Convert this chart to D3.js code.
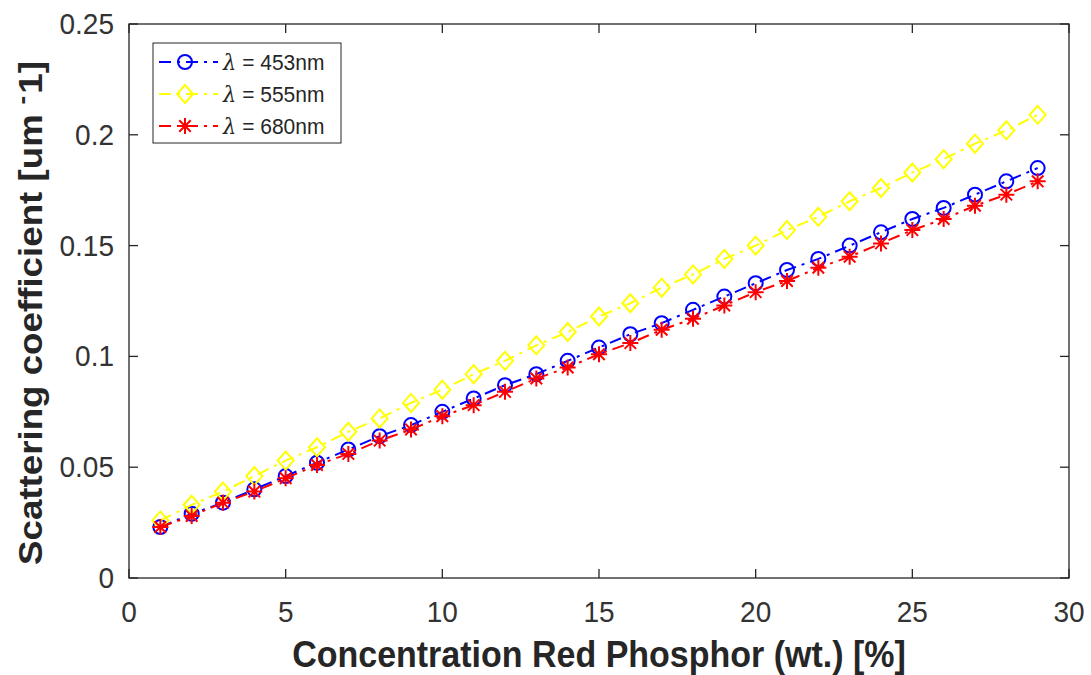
<!DOCTYPE html>
<html><head><meta charset="utf-8">
<script src="https://cdn.jsdelivr.net/npm/d3@7"></script>
<style>html,body{margin:0;padding:0;background:#fff;}svg{display:block;font-family:"Liberation Sans",Arial,sans-serif;}</style>
</head><body>
<script>
const concentration = [1,2,3,4,5,6,7,8,9,10,11,12,13,14,15,16,17,18,19,20,21,22,23,24,25,26,27,28,29];
const s453 = [0.023,0.029,0.034,0.040,0.046,0.052,0.058,0.064,0.069,0.075,0.081,0.087,0.092,0.098,0.104,0.110,0.115,0.121,0.127,0.133,0.139,0.144,0.150,0.156,0.162,0.167,0.173,0.179,0.185];
const s555 = [0.026,0.033,0.039,0.046,0.053,0.059,0.066,0.072,0.079,0.085,0.092,0.098,0.105,0.111,0.118,0.124,0.131,0.137,0.144,0.150,0.157,0.163,0.170,0.176,0.183,0.189,0.196,0.202,0.209];
const s680 = [0.023,0.028,0.034,0.039,0.045,0.051,0.056,0.062,0.067,0.073,0.078,0.084,0.090,0.095,0.101,0.106,0.112,0.117,0.123,0.129,0.134,0.140,0.145,0.151,0.157,0.162,0.168,0.173,0.179];
const seriesNames = ["453nm","555nm","680nm"];
const xTicks = [0,5,10,15,20,25,30];
const yTicks = [0,0.05,0.1,0.15,0.2,0.25];
const yTickLabels = ["0","0.05","0.1","0.15","0.2","0.25"];

const W=1091,H=675;
const L=129,R=1069,T=24,B=578;
const axisColor="#262626";
const vs=1.08; // vertical stretch of text
const svg=d3.select("body").append("svg").attr("width",W).attr("height",H);
const x=d3.scaleLinear().domain([0,30]).range([L,R]);
const y=d3.scaleLinear().domain([0,0.25]).range([B,T]);

const series=[
 {name:seriesNames[0],vals:s453,color:"#0000ff",marker:"circle"},
 {name:seriesNames[1],vals:s555,color:"#ffff00",marker:"diamond"},
 {name:seriesNames[2],vals:s680,color:"#ff0000",marker:"star"}
];

function drawMarker(g,type,cx,cy,color){
  if(type==="circle"){
    g.append("circle").attr("cx",cx).attr("cy",cy).attr("r",7).attr("fill","none").attr("stroke",color).attr("stroke-width",2);
  } else if(type==="diamond"){
    g.append("path").attr("d",`M${cx},${cy-9}L${cx+8},${cy}L${cx},${cy+9}L${cx-8},${cy}Z`).attr("fill","none").attr("stroke",color).attr("stroke-width",2);
  } else {
    const r=8,d=r*0.72;
    g.append("path").attr("d",`M${cx-r},${cy}L${cx+r},${cy}M${cx},${cy-r}L${cx},${cy+r}M${cx-d},${cy-d}L${cx+d},${cy+d}M${cx-d},${cy+d}L${cx+d},${cy-d}`)
      .attr("fill","none").attr("stroke",color).attr("stroke-width",2);
  }
}

// series
const line=d3.line().x((d,i)=>x(concentration[i])).y(d=>y(d));
const plotG=svg.append("g");
series.forEach(s=>{
  plotG.append("path").datum(s.vals).attr("d",line).attr("fill","none").attr("stroke",s.color)
    .attr("stroke-width",2).attr("stroke-dasharray","12,6,3,6");
  const mg=plotG.append("g");
  s.vals.forEach((v,i)=>drawMarker(mg,s.marker,x(concentration[i]),y(v),s.color));
});

// axes box
const ax=svg.append("g").attr("stroke",axisColor).attr("stroke-width",1.3).attr("fill","none");
ax.append("rect").attr("x",L).attr("y",T).attr("width",R-L).attr("height",B-T);
const tl=9;
xTicks.forEach(t=>{
  ax.append("line").attr("x1",x(t)).attr("x2",x(t)).attr("y1",B).attr("y2",B-tl);
  ax.append("line").attr("x1",x(t)).attr("x2",x(t)).attr("y1",T).attr("y2",T+tl);
});
yTicks.forEach(t=>{
  ax.append("line").attr("x1",L).attr("x2",L+tl).attr("y1",y(t)).attr("y2",y(t));
  ax.append("line").attr("x1",R).attr("x2",R-tl).attr("y1",y(t)).attr("y2",y(t));
});
const tg=svg.append("g").attr("fill","#333").attr("font-size",28);
xTicks.forEach(t=>{
  tg.append("text").attr("transform",`translate(${x(t)},${B+44}) scale(1,${vs})`).attr("text-anchor","middle").text(d3.format("d")(t));
});
yTicks.forEach((t,i)=>{
  tg.append("text").attr("transform",`translate(${L-15},${y(t)+10}) scale(1,${vs})`).attr("text-anchor","end").text(yTickLabels[i]);
});

// axis labels
svg.append("text").attr("transform",`translate(${(L+R)/2},667) scale(1,${vs})`).attr("text-anchor","middle").attr("font-size",34).attr("font-weight","bold").attr("fill",axisColor)
  .text("Concentration Red Phosphor (wt.) [%]");
const yl=svg.append("text").attr("transform",`translate(42,565) scale(1,${vs}) rotate(-90)`).attr("text-anchor","start").attr("font-size",34).attr("font-weight","bold").attr("fill",axisColor);
yl.append("tspan").text("Scattering coefficient [um");
yl.append("tspan").attr("dx",9).attr("dy",-12).attr("font-size",24).text("-");
yl.append("tspan").attr("dx",2).attr("dy",12).text("1]");

// legend
const lg=svg.append("g");
lg.append("rect").attr("x",153).attr("y",43).attr("width",188).attr("height",100).attr("fill","#fff").attr("stroke",axisColor).attr("stroke-width",1);
series.forEach((s,i)=>{
  const cy=62+i*32;
  lg.append("line").attr("x1",159).attr("x2",218).attr("y1",cy).attr("y2",cy).attr("stroke",s.color).attr("stroke-width",2).attr("stroke-dasharray","12,6,3,6");
  drawMarker(lg,s.marker,185,cy,s.color);
  const t=lg.append("text").attr("transform",`translate(223,${cy+8}) scale(1,${vs})`).attr("font-size",21).attr("fill",axisColor);
  t.append("tspan").attr("font-family","DejaVu Serif, serif").attr("font-style","italic").text("λ");
  t.append("tspan").text(" = "+s.name);
});
</script>
</body></html>
